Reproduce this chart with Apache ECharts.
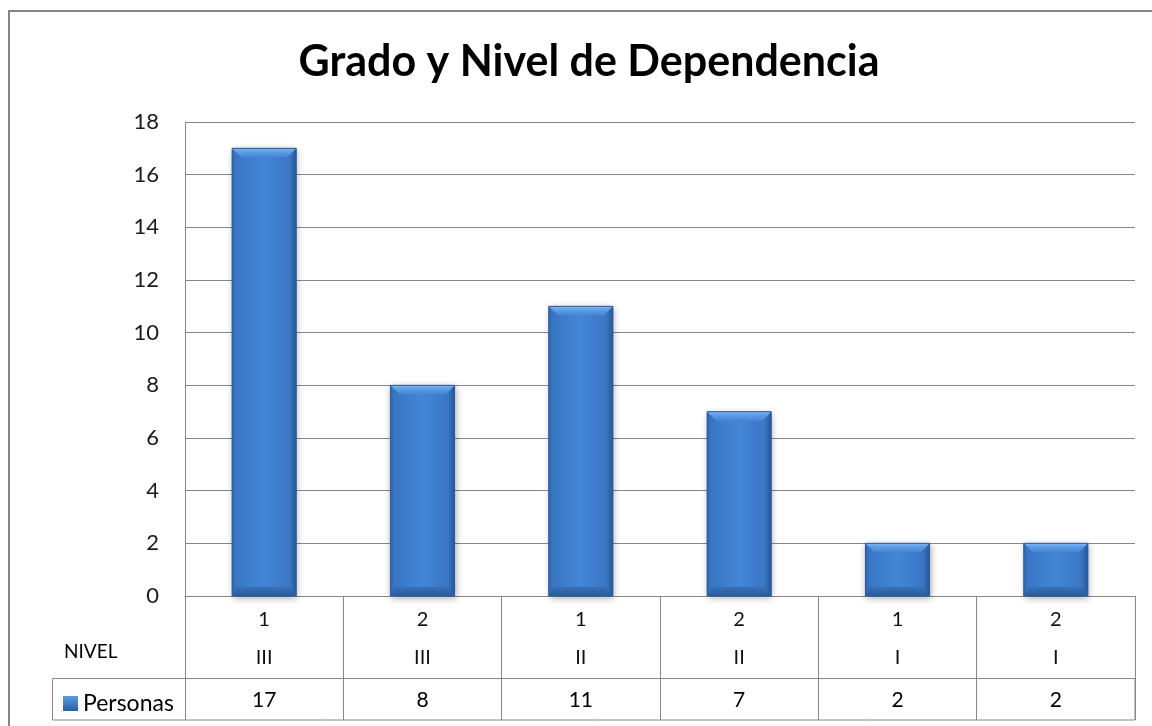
<!DOCTYPE html>
<html>
<head>
<meta charset="utf-8">
<script src="https://cdn.jsdelivr.net/npm/echarts@6/dist/echarts.min.js"></script>
<style>
  html, body { margin: 0; padding: 0; background: #fff; }
  #chart { width: 1152px; height: 726px; }
</style>
</head>
<body>
<div id="chart"></div>
<script>
// Table rows and series values
const niveles = ['1', '2', '1', '2', '1', '2'];
const grados = ['III', 'III', 'II', 'II', 'I', 'I'];
const personas = [17, 8, 11, 7, 2, 2];
const seriesName = 'Personas';
const yTicks = { min: 0, max: 18, interval: 2 };

const categories = niveles.map((n, i) => n + '\n' + grados[i]);
const barData = personas.map((v, i) => [i, v]);

const FONT = 'Lato, "Open Sans", sans-serif';
const GRID_GRAY = '#878787';

// Beveled bar drawn from the axis scales
function renderBar(params, api) {
  const idx = api.value(0);
  const val = api.value(1);
  const top = api.coord([idx, val]);
  const base = api.coord([idx, 0]);
  const w = api.size([1, 0])[0] * 0.405;
  const x0 = top[0] - w / 2, x1 = top[0] + w / 2;
  const y0 = top[1], y1 = base[1];
  const b = Math.min(9, (y1 - y0) / 3.2);
  const lin = (x, y, x2, y2, stops) => new echarts.graphic.LinearGradient(x, y, x2, y2, stops);
  return {
    type: 'group',
    children: [
      {
        type: 'rect',
        shape: { x: x0, y: y0, width: w, height: y1 - y0 },
        style: {
          fill: lin(0, 0, 1, 0, [
            { offset: 0, color: '#3774c2' },
            { offset: 0.5, color: '#4386d6' },
            { offset: 1, color: '#3872c0' }
          ]),
          shadowBlur: 7,
          shadowColor: 'rgba(0,0,0,0.35)',
          shadowOffsetX: 1,
          shadowOffsetY: 2
        }
      },
      {
        type: 'polygon',
        shape: { points: [[x0, y0], [x1, y0], [x1 - b, y0 + b], [x0 + b, y0 + b]] },
        style: {
          fill: lin(0, 0, 0, 1, [
            { offset: 0, color: '#7ab5f4' },
            { offset: 0.45, color: '#5c9ae6' },
            { offset: 1, color: '#4585d4' }
          ])
        }
      },
      {
        type: 'polygon',
        shape: { points: [[x0, y0], [x0 + b * 0.5, y0 + b], [x0 + b * 0.5, y1 - b], [x0, y1]] },
        style: { fill: lin(0, 0, 1, 0, [{ offset: 0, color: '#2e66ad' }, { offset: 1, color: '#3a78c6' }]) }
      },
      {
        type: 'polygon',
        shape: { points: [[x1, y0], [x1, y1], [x1 - b * 0.7, y1 - b], [x1 - b * 0.7, y0 + b]] },
        style: { fill: lin(0, 0, 1, 0, [{ offset: 0, color: '#3a74be' }, { offset: 1, color: '#25579a' }]) }
      },
      {
        type: 'polygon',
        shape: { points: [[x0, y1], [x0 + b * 0.5, y1 - b], [x1 - b * 0.7, y1 - b], [x1, y1]] },
        style: { fill: lin(0, 0, 0, 1, [{ offset: 0, color: '#3870b8' }, { offset: 1, color: '#285b9f' }]) }
      },
      {
        type: 'rect',
        shape: { x: x0, y: y0, width: w, height: y1 - y0 },
        style: { fill: null, stroke: '#2b5c9c', lineWidth: 1 }
      }
    ]
  };
}

const chart = echarts.init(document.getElementById('chart'), null, { renderer: 'canvas' });

chart.setOption({
  animation: false,
  backgroundColor: '#ffffff',
  title: {
    text: 'Grado y Nivel de Dependencia',
    left: 584,
    top: 36,
    textAlign: 'center',
    textStyle: { fontFamily: FONT, fontWeight: 'bold', fontSize: 43, color: '#000' }
  },
  legend: {
    data: [{
      name: seriesName,
      itemStyle: {
        color: new echarts.graphic.LinearGradient(0, 0, 0, 1, [
          { offset: 0, color: '#5d9be4' },
          { offset: 1, color: '#2b5e9f' }
        ])
      }
    }],
    left: 58,
    top: 687,
    icon: 'rect',
    itemWidth: 15,
    itemHeight: 15,
    itemGap: 5,
    textStyle: { fontFamily: FONT, fontSize: 23, color: '#000' }
  },
  grid: { left: 185, right: 17, top: 122, bottom: 130, containLabel: false },
  xAxis: [
    {
      type: 'category',
      data: categories,
      position: 'bottom',
      axisLine: { show: true, lineStyle: { color: GRID_GRAY, width: 1 } },
      axisTick: { show: true, interval: 0, length: 82, lineStyle: { color: GRID_GRAY } },
      axisLabel: {
        interval: 0,
        margin: 5,
        fontFamily: FONT,
        fontSize: 20,
        lineHeight: 38,
        color: '#111'
      }
    },
    {
      type: 'category',
      data: categories,
      position: 'bottom',
      offset: 82,
      axisLine: { show: true, lineStyle: { color: GRID_GRAY, width: 1 } },
      axisTick: { show: true, interval: 0, length: 42, lineStyle: { color: GRID_GRAY } },
      axisLabel: {
        interval: 0,
        margin: 10,
        fontFamily: FONT,
        fontSize: 21,
        lineHeight: 24,
        color: '#000',
        formatter: (v, i) => String(personas[i])
      }
    }
  ],
  yAxis: {
    type: 'value',
    min: yTicks.min,
    max: yTicks.max,
    interval: yTicks.interval,
    axisLine: { show: true, lineStyle: { color: GRID_GRAY } },
    axisTick: { show: false },
    axisLabel: { margin: 26, fontFamily: FONT, fontSize: 22, color: '#1a1a1a' },
    splitLine: { show: true, lineStyle: { color: GRID_GRAY, width: 1 } }
  },
  series: [{
    name: seriesName,
    type: 'custom',
    xAxisIndex: 0,
    renderItem: renderBar,
    encode: { x: 0, y: 1 },
    itemStyle: { color: '#3f80d0' },
    data: barData,
    z: 5
  }],
  graphic: [
    // chart frame
    {
      type: 'rect',
      shape: { x: 9, y: 11, width: 1300, height: 900 },
      style: { fill: null, stroke: '#858585', lineWidth: 2 },
      silent: true
    },
    // legend row of the data table
    {
      type: 'rect',
      shape: { x: 52.5, y: 678.5, width: 1082.5, height: 41.5 },
      style: { fill: null, stroke: GRID_GRAY, lineWidth: 1 },
      silent: true
    },
    {
      type: 'text',
      x: 64,
      y: 652,
      style: {
        text: 'NIVEL',
        fontFamily: FONT,
        fontSize: 19,
        fill: '#000',
        textVerticalAlign: 'middle',
        verticalAlign: 'middle'
      },
      silent: true
    }
  ]
});
</script>
</body>
</html>
